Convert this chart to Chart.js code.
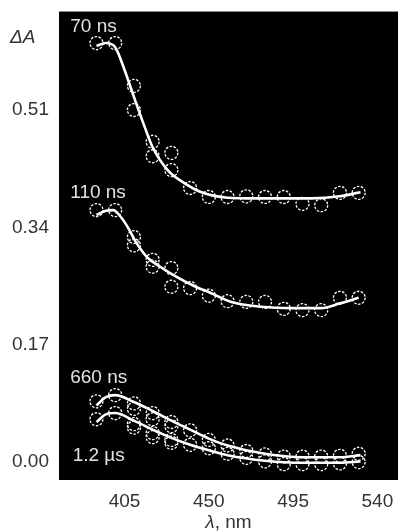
<!DOCTYPE html>
<html>
<head>
<meta charset="utf-8">
<script src="https://cdn.jsdelivr.net/npm/chart.js@4.4.0/dist/chart.umd.min.js"></script>
<style>
  html, body { margin: 0; padding: 0; background: #fff; }
  canvas { display: block; }
</style>
</head>
<body>
<canvas id="spectra" width="398" height="531"></canvas>
<script>
// measured wavelengths (nm); 410-430 nm were recorded twice
const waveNm = [390, 400, 410, 410, 420, 420, 430, 430, 440, 450, 460, 470, 480, 490, 500, 510, 520, 530];

// transient absorbance at each delay
const dA70ns  = [0.607, 0.607, 0.545, 0.510, 0.464, 0.443, 0.448, 0.423, 0.397, 0.384, 0.384, 0.385, 0.384, 0.384, 0.374, 0.372, 0.390, 0.390];
const dA110ns = [0.365, 0.365, 0.326, 0.314, 0.293, 0.283, 0.281, 0.254, 0.252, 0.241, 0.233, 0.232, 0.232, 0.222, 0.220, 0.220, 0.238, 0.238];
const dA660ns = [0.088, 0.097, 0.085, 0.077, 0.071, 0.062, 0.058, 0.052, 0.046, 0.032, 0.024, 0.016, 0.011, 0.008, 0.008, 0.008, 0.009, 0.012];
const dA1200ns = [0.062, 0.071, 0.055, 0.050, 0.042, 0.036, 0.032, 0.028, 0.025, 0.020, 0.012, 0.006, 0.001, -0.003, -0.003, -0.003, -0.002, 0.000];

// smoothed spectra
const fitNm70 = [390, 395, 400, 405, 410, 415, 420, 428, 437, 445, 460, 475, 490, 505, 520, 531];
const fit70ns = [0.603, 0.607, 0.601, 0.568, 0.529, 0.491, 0.456, 0.423, 0.404, 0.392, 0.383, 0.382, 0.382, 0.382, 0.385, 0.391];
const fitNm110 = [390, 395, 399, 403, 407, 411, 417, 424, 433, 443, 451, 462, 478, 494, 510, 520, 530];
const fit110ns = [0.358, 0.364, 0.365, 0.355, 0.339, 0.319, 0.297, 0.283, 0.268, 0.254, 0.245, 0.232, 0.225, 0.223, 0.223, 0.230, 0.238];
const fitNmLate = [390, 395, 400, 410, 420, 430, 440, 450, 460, 480, 500, 520, 531];
const fit660ns = [0.082, 0.094, 0.097, 0.087, 0.074, 0.060, 0.047, 0.034, 0.024, 0.012, 0.007, 0.007, 0.010];
const fit1200ns = [0.058, 0.069, 0.071, 0.060, 0.047, 0.035, 0.025, 0.017, 0.010, 0.002, -0.001, -0.001, 0.001];

const delayLabels = ['70 ns', '110 ns', '660 ns', '1.2 \u00b5s'];
const xTicks = [405, 450, 495, 540];
const yTicks = [0, 0.17, 0.34, 0.51];

const FONT = "'Liberation Sans', Arial, sans-serif";

const toPoints = (xs, ys) => xs.map((x, i) => ({ x: x, y: ys[i] }));

const marks = (ys) => ({
    data: toPoints(waveNm, ys),
    showLine: false,
    dashedMarks: true,
    pointRadius: 6.5,
    pointBorderWidth: 1.3,
    pointBorderColor: '#fff',
    pointBackgroundColor: 'transparent',
});

const curve = (xs, ys) => ({
    data: toPoints(xs, ys),
    showLine: true,
    borderColor: '#fff',
    borderWidth: 2.6,
    pointRadius: 0,
    cubicInterpolationMode: 'monotone',
});

const decorations = {
    id: 'decorations',
    beforeDraw(chart) {
        const { ctx, chartArea: a } = chart;
        ctx.save();
        ctx.fillStyle = '#000';
        ctx.fillRect(a.left, a.top, a.right - a.left, a.bottom - a.top);
        ctx.strokeStyle = '#8c8c8c';
        ctx.lineWidth = 1;
        ctx.beginPath();
        ctx.moveTo(a.left, a.top - 0.5);
        ctx.lineTo(a.right, a.top - 0.5);
        ctx.stroke();
        ctx.restore();
    },
    beforeDatasetDraw(chart, args) {
        if (chart.data.datasets[args.index].dashedMarks) {
            chart.ctx.save();
            chart.ctx.setLineDash([2.5, 1.5]);
        }
    },
    afterDatasetDraw(chart, args) {
        if (chart.data.datasets[args.index].dashedMarks) {
            chart.ctx.restore();
        }
    },
    afterDraw(chart) {
        const { ctx, chartArea: a, scales: { x, y } } = chart;
        ctx.save();
        ctx.textBaseline = 'alphabetic';

        // delay labels next to each spectrum
        ctx.fillStyle = '#e2e2e2';
        ctx.font = '19px ' + FONT;
        const anchors = [[376, 0.623], [376, 0.383], [376, 0.114], [377.3, 0.0015]];
        delayLabels.forEach((t, i) => {
            ctx.fillText(t, x.getPixelForValue(anchors[i][0]), y.getPixelForValue(anchors[i][1]));
        });

        // axis titles
        ctx.fillStyle = '#333';
        ctx.font = 'italic 19px ' + FONT;
        ctx.fillText('\u0394A', 10, y.getPixelForValue(0.607));

        const lam = '\u03bb';
        const rest = ', nm';
        ctx.font = 'italic 19px ' + FONT;
        const w1 = ctx.measureText(lam).width;
        ctx.font = '19px ' + FONT;
        const w2 = ctx.measureText(rest).width;
        const cx = (a.left + a.right) / 2;
        const left = cx - (w1 + w2) / 2;
        ctx.font = 'italic 19px ' + FONT;
        ctx.fillText(lam, left, 528);
        ctx.font = '19px ' + FONT;
        ctx.fillText(rest, left + w1, 528);
        ctx.restore();
    },
};

new Chart(document.getElementById('spectra'), {
    type: 'scatter',
    data: {
        datasets: [
            curve(fitNm70, fit70ns),
            curve(fitNm110, fit110ns),
            curve(fitNmLate, fit660ns),
            curve(fitNmLate, fit1200ns),
            marks(dA70ns),
            marks(dA110ns),
            marks(dA660ns),
            marks(dA1200ns),
        ],
    },
    options: {
        responsive: false,
        animation: false,
        devicePixelRatio: 1,
        layout: { autoPadding: false, padding: { top: 12, right: 0, left: 0, bottom: 0 } },
        plugins: {
            legend: { display: false },
            tooltip: { enabled: false },
        },
        scales: {
            x: {
                type: 'linear',
                min: 370,
                max: 551,
                grid: { display: false, drawTicks: false },
                border: { display: false },
                afterBuildTicks: (scale) => { scale.ticks = xTicks.map((v) => ({ value: v })); },
                afterFit: (scale) => {
                    scale.height = 51;
                    scale.paddingLeft = 0;
                    scale.paddingRight = 0;
                },
                ticks: {
                    color: '#333',
                    font: { family: FONT, size: 19 },
                    padding: 10,
                    maxRotation: 0,
                    callback: (v) => String(v),
                },
            },
            y: {
                type: 'linear',
                min: -0.026,
                max: 0.652,
                grid: { display: false, drawTicks: false },
                border: { display: false },
                afterBuildTicks: (scale) => { scale.ticks = yTicks.map((v) => ({ value: v })); },
                afterFit: (scale) => {
                    scale.width = 59;
                    scale.paddingTop = 0;
                    scale.paddingBottom = 0;
                },
                ticks: {
                    color: '#333',
                    font: { family: FONT, size: 19 },
                    padding: 10,
                    callback: (v) => v.toFixed(2),
                },
            },
        },
    },
    plugins: [decorations],
});
</script>
</body>
</html>
